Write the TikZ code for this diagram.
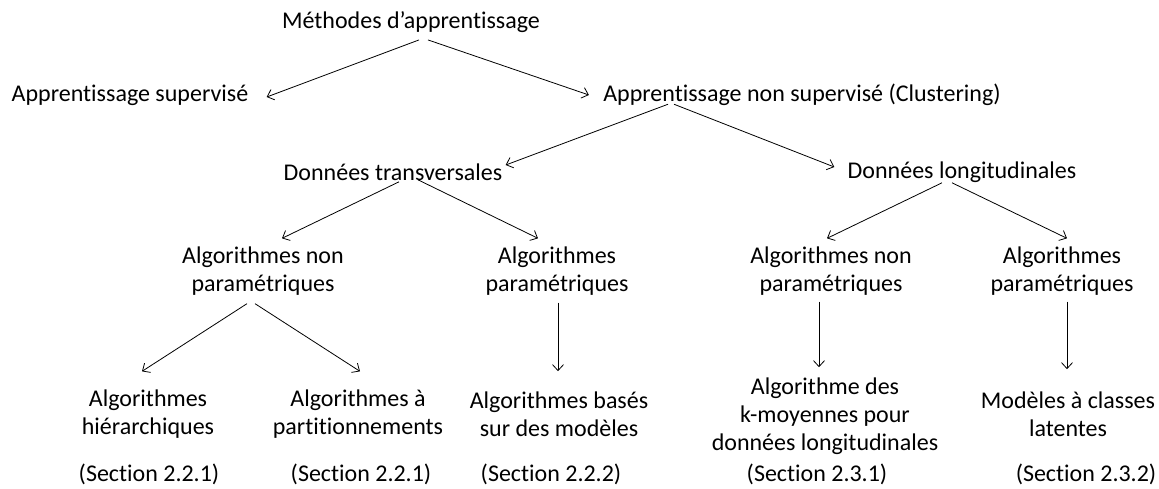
\documentclass[tikz,border=0pt]{standalone}
\usepackage{fontspec}
\setmainfont{Carlito}[Ligatures=NoCommon]
\usepackage{tikz}
\usetikzlibrary{positioning,arrows.meta}

\begin{document}
\begin{tikzpicture}[>={Straight Barb[length=6pt,width=11pt]}, line width=0.8pt, on grid,
    txt/.style={inner sep=3pt, align=center, font=\fontsize{24}{28}\selectfont}]
    \useasboundingbox (0,0) rectangle (1159pt,-488pt);

    \node[txt] (meth) at (411pt,-22pt) {Méthodes d’apprentissage};
    \node[txt] (sup) [below left=73pt and 281pt of meth] {Apprentissage supervisé};
    \node[txt] (nonsup) [below right=73pt and 391pt of meth] {Apprentissage non supervisé (Clustering)};
    \node[txt] (trans) [below left=77pt and 409pt of nonsup] {Données transversales};
    \node[txt] (longi) [below right=77pt and 160pt of nonsup] {Données longitudinales};
    \node[txt] (np_t) [below left=99pt and 130pt of trans] {Algorithmes non\\paramétriques};
    \node[txt] (p_t) [below right=99pt and 164pt of trans] {Algorithmes\\paramétriques};
    \node[txt] (np_l) [below left=99pt and 131pt of longi] {Algorithmes non\\paramétriques};
    \node[txt] (p_l) [below right=99pt and 100pt of longi] {Algorithmes\\paramétriques};
    \node[txt] (hier) [below left=143pt and 115pt of np_t] {Algorithmes\\hiérarchiques};
    \node[txt] (part) [below right=143pt and 95pt of np_t] {Algorithmes à\\partitionnements};
    \node[txt] (mod) [below right=143pt and 2pt of p_t] {Algorithmes basés\\sur des modèles};
    \node[txt] (kml) [below left=145pt and 6pt of np_l] {Algorithme des\\k-moyennes pour\\données longitudinales};
    \node[txt] (lat) [below right=143pt and 6pt of p_l] {Modèles à classes\\latentes};
    \node[txt] (sec_1) [below right=60pt and 1pt of hier] {(Section 2.2.1)};
    \node[txt] (sec_2) [below right=60pt and 3pt of part] {(Section 2.2.1)};
    \node[txt] (sec_3) [below left=60pt and 8pt of mod] {(Section 2.2.2)};
    \node[txt] (sec_4) [below left=58pt and 8pt of kml] {(Section 2.3.1)};
    \node[txt] (sec_5) [below right=60pt and 18pt of lat] {(Section 2.3.2)};

    \path[->]
    ([xshift=8pt,yshift=-4pt]meth.south) edge ([xshift=15pt,yshift=-2pt]sup.east)
    ([xshift=17pt,yshift=-4pt]meth.south) edge ([xshift=-11pt]nonsup.west)
    ([xshift=-134pt,yshift=5pt]nonsup.south) edge ([yshift=7pt]trans.east)
    ([xshift=-128pt,yshift=5pt]nonsup.south) edge ([xshift=-10pt,yshift=5pt]longi.west)
    ([xshift=6pt,yshift=2pt]trans.south) edge ([xshift=19pt,yshift=5pt]np_t.north)
    ([xshift=25pt,yshift=4pt]trans.south) edge ([xshift=-19pt,yshift=5pt]p_t.north)
    ([xshift=-20pt,yshift=3pt]longi.south) edge ([xshift=-4pt,yshift=5pt]np_l.north)
    ([xshift=-10pt,yshift=3pt]longi.south) edge ([xshift=5pt,yshift=5pt]p_l.north)
    ([xshift=-16pt,yshift=-5pt]np_t.south) edge ([xshift=-6pt,yshift=15pt]hier.north)
    ([xshift=-8pt,yshift=-5pt]np_t.south) edge ([xshift=2pt,yshift=15pt]part.north)
    ([xshift=1pt,yshift=-4pt]p_t.south) edge ([xshift=-1pt,yshift=17pt]mod.north)
    ([xshift=-12pt,yshift=-3pt]np_l.south) edge ([xshift=-6pt,yshift=7pt]kml.north)
    ([xshift=5pt,yshift=-3pt]p_l.south) edge ([xshift=-1pt,yshift=19pt]lat.north);
\end{tikzpicture}
\end{document}
